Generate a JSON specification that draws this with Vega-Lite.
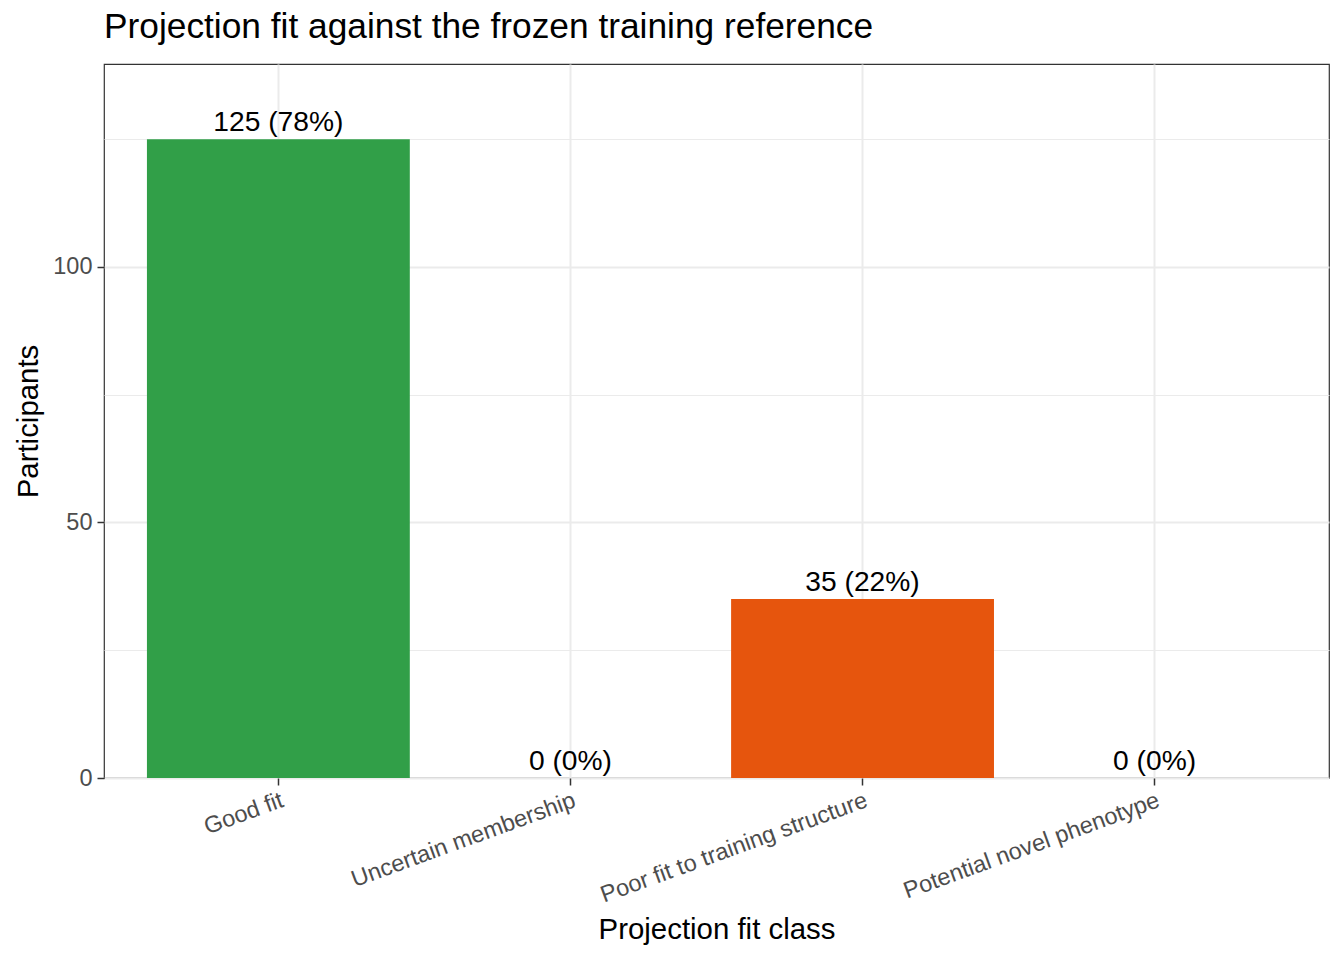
{
  "$schema": "https://vega.github.io/schema/vega-lite/v6.json",
  "autosize": {"type": "none"},
  "padding": {"left": 104, "top": 64, "right": 15, "bottom": 182},
  "width": 1225,
  "height": 714,
  "background": "white",
  "title": {
    "text": "Projection fit against the frozen training reference",
    "anchor": "start",
    "frame": "group",
    "font": "Liberation Sans",
    "fontSize": 35.3,
    "fontWeight": "normal",
    "color": "black",
    "baseline": "alphabetic",
    "offset": -9
  },
  "data": {
    "values": [
      {"fit_class": "Good fit", "n": 125, "label": "125 (78%)"},
      {"fit_class": "Uncertain membership", "n": 0, "label": "0 (0%)"},
      {"fit_class": "Poor fit to training structure", "n": 35, "label": "35 (22%)"},
      {"fit_class": "Potential novel phenotype", "n": 0, "label": "0 (0%)"}
    ]
  },
  "encoding": {
    "x": {
      "field": "fit_class",
      "type": "nominal",
      "sort": null,
      "title": "Projection fit class",
      "scale": {"paddingInner": 0.1, "paddingOuter": 0.147},
      "axis": {
        "labelAngle": -20,
        "labelAlign": "right",
        "labelBaseline": "top",
        "labelLimit": 0,
        "labelFont": "Liberation Sans",
        "labelFontSize": 23.5,
        "labelColor": "#4D4D4D",
        "labelPadding": 3,
        "tickSize": 7,
        "tickColor": "#333333",
        "tickWidth": 1.5,
        "domain": false,
        "grid": true,
        "gridColor": "#EBEBEB",
        "gridWidth": 2,
        "titleFont": "Liberation Sans",
        "titleFontSize": 29.4,
        "titleFontWeight": "normal",
        "titleColor": "black",
        "titleBaseline": "alphabetic",
        "titleY": 160
      }
    },
    "y": {
      "field": "n",
      "type": "quantitative",
      "title": "Participants",
      "scale": {"domain": [0, 139.7], "nice": false, "zero": true},
      "axis": {
        "values": [0, 25, 50, 75, 100, 125],
        "labelExpr": "datum.value % 50 === 0 ? datum.label : ''",
        "labelFont": "Liberation Sans",
        "labelFontSize": 23.5,
        "labelColor": "#4D4D4D",
        "labelPadding": 5,
        "tickSize": 7,
        "tickColor": "#333333",
        "tickWidth": 1.5,
        "tickOpacity": {"condition": {"test": "datum.value % 50 === 0", "value": 1}, "value": 0},
        "domain": false,
        "grid": true,
        "gridColor": "#EBEBEB",
        "gridWidth": {"condition": {"test": "datum.value % 50 === 0", "value": 2}, "value": 1},
        "titleFont": "Liberation Sans",
        "titleFontSize": 29.4,
        "titleFontWeight": "normal",
        "titleColor": "black",
        "titleBaseline": "alphabetic",
        "titleX": -67
      }
    }
  },
  "layer": [
    {
      "mark": {"type": "bar"},
      "encoding": {
        "color": {
          "field": "fit_class",
          "type": "nominal",
          "legend": null,
          "scale": {
            "domain": ["Good fit", "Uncertain membership", "Poor fit to training structure", "Potential novel phenotype"],
            "range": ["#319F48", "#1F78B4", "#E6550D", "#6A3D9A"]
          }
        }
      }
    },
    {
      "mark": {
        "type": "text",
        "font": "Liberation Sans",
        "fontSize": 28.2,
        "color": "black",
        "baseline": "alphabetic",
        "dy": -8
      },
      "encoding": {
        "text": {"field": "label", "type": "nominal"}
      }
    }
  ],
  "config": {
    "view": {"stroke": "#333333", "strokeWidth": 1.2}
  }
}
